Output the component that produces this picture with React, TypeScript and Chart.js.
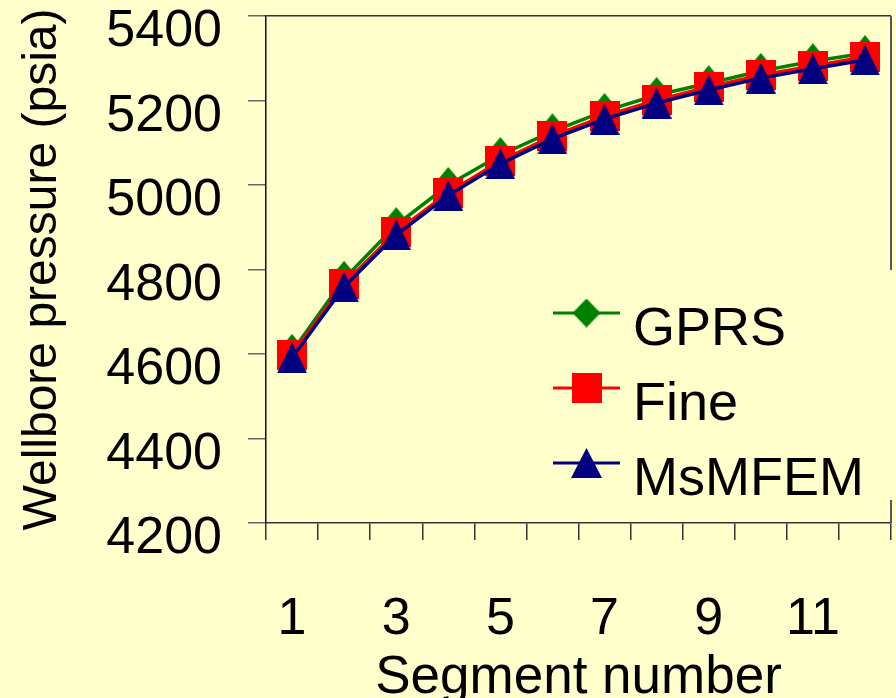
import { useEffect, useRef } from 'react';
import { Chart, registerables } from 'chart.js';

Chart.register(...registerables);

// ---- data ----
const segments = ['1', '2', '3', '4', '5', '6', '7', '8', '9', '10', '11', '12'];
const gprsPressure = [4605, 4778, 4905, 5000, 5071, 5127, 5175, 5213, 5241, 5270, 5293, 5312];
const finePressure = [4598, 4766, 4889, 4982, 5057, 5116, 5163, 5201, 5232, 5260, 5282, 5303];
const msmfemPressure = [4591, 4759, 4882, 4975, 5050, 5109, 5156, 5194, 5225, 5253, 5275, 5296];
const seriesNames = ['GPRS', 'Fine', 'MsMFEM'];
const yMin = 4200;
const yMax = 5400;
const yStep = 200;

const BG = '#FFFFCC';
const FONT = '"Liberation Sans", Arial, sans-serif';
const GREEN = '#008000';
const RED = '#FF0000';
const NAVY = '#000080';

type Kind = 'diamond' | 'square' | 'triangle';

function makeMarker(kind: Kind, color: string, w: number, h: number): HTMLCanvasElement {
  const c = document.createElement('canvas');
  c.width = w;
  c.height = h;
  const g = c.getContext('2d')!;
  g.fillStyle = color;
  g.beginPath();
  if (kind === 'diamond') {
    g.moveTo(w / 2, 0);
    g.lineTo(w, h / 2);
    g.lineTo(w / 2, h);
    g.lineTo(0, h / 2);
  } else if (kind === 'square') {
    g.rect(0, 0, w, h);
  } else {
    g.moveTo(w / 2, 0);
    g.lineTo(w, h);
    g.lineTo(0, h);
  }
  g.closePath();
  g.fill();
  return c;
}

export default function App() {
  const ref = useRef<HTMLCanvasElement | null>(null);

  useEffect(() => {
    const canvas = ref.current;
    if (!canvas) return;

    const legendMarkers = [
      makeMarker('diamond', GREEN, 28, 29),
      makeMarker('square', RED, 30, 30),
      makeMarker('triangle', NAVY, 31, 30),
    ];

    const legendPlugin = {
      id: 'boxLegend',
      afterDraw(chart: any) {
        const { ctx, chartArea: a } = chart;
        ctx.save();
        // right frame line
        ctx.strokeStyle = '#555555';
        ctx.lineWidth = 2;
        ctx.beginPath();
        ctx.moveTo(a.right, a.top);
        ctx.lineTo(a.right, a.bottom);
        ctx.stroke();
        // opaque legend box
        ctx.fillStyle = BG;
        ctx.fillRect(545, 270, 351, 230);
        [0, 1, 2].forEach((di, row) => {
          const ds = chart.data.datasets[di];
          const y = 313 + row * 75;
          ctx.strokeStyle = ds.borderColor;
          ctx.lineWidth = 3;
          ctx.beginPath();
          ctx.moveTo(553, y);
          ctx.lineTo(620, y);
          ctx.stroke();
          const m = legendMarkers[di];
          ctx.drawImage(m, 586.5 - m.width / 2, y - m.height / 2);
          ctx.fillStyle = '#000000';
          ctx.font = `54px ${FONT}`;
          ctx.textAlign = 'left';
          ctx.textBaseline = 'alphabetic';
          ctx.fillText(ds.label, 633, y + 31.5);
        });
        ctx.restore();
      },
    };

    const chart = new Chart(canvas, {
      type: 'line',
      data: {
        labels: segments,
        datasets: [
          {
            label: seriesNames[0],
            data: gprsPressure,
            borderColor: GREEN,
            backgroundColor: GREEN,
            borderWidth: 3.5,
            pointStyle: makeMarker('diamond', GREEN, 30, 36) as any,
            pointRadius: 15,
            tension: 0,
            order: 2,
            clip: false as any,
          },
          {
            label: seriesNames[1],
            data: finePressure,
            borderColor: RED,
            backgroundColor: RED,
            borderWidth: 3.5,
            pointStyle: makeMarker('square', RED, 30, 30) as any,
            pointRadius: 15,
            tension: 0,
            order: 1,
            clip: false as any,
          },
          {
            label: seriesNames[2],
            data: msmfemPressure,
            borderColor: NAVY,
            backgroundColor: NAVY,
            borderWidth: 3.5,
            pointStyle: makeMarker('triangle', NAVY, 30, 31) as any,
            pointRadius: 15,
            tension: 0,
            order: 0,
            clip: false as any,
          },
        ],
      },
      options: {
        responsive: false,
        devicePixelRatio: 1,
        animation: false,
        events: [],
        layout: { autoPadding: false, padding: { top: 16, right: 5, left: 0, bottom: 0 } },
        plugins: {
          legend: { display: false },
          tooltip: { enabled: false },
        },
        scales: {
          x: {
            type: 'category',
            offset: true,
            grid: {
              offset: true,
              drawOnChartArea: false,
              drawTicks: true,
              tickLength: 17,
              tickColor: '#333333',
              lineWidth: 1.5,
            },
            border: { display: true, color: '#333333', width: 1.5 },
            ticks: {
              autoSkip: false,
              maxRotation: 0,
              padding: 48,
              color: '#000000',
              font: { family: FONT, size: 52 },
              callback: (_v: any, i: number) => (i % 2 === 0 ? segments[i] : ''),
            },
            title: {
              display: true,
              text: 'Segment number',
              color: '#000000',
              font: { family: FONT, size: 53, lineHeight: 1 },
              padding: { top: 0, bottom: -7 },
            },
            afterFit: (s: any) => {
              s.height = 175;
              s.paddingLeft = 0;
              s.paddingRight = 0;
            },
          },
          y: {
            type: 'linear',
            min: yMin,
            max: yMax,
            ticks: {
              stepSize: yStep,
              padding: 26,
              labelOffset: 16,
              color: '#000000',
              font: { family: FONT, size: 52 },
              callback: (v: any) => String(v),
            },
            grid: {
              drawOnChartArea: true,
              drawTicks: true,
              tickLength: 18,
              lineWidth: 1.5,
              color: (c: any) => (c.tick && c.tick.value === yMax ? '#333333' : 'rgba(0,0,0,0)'),
              tickColor: '#666666',
            },
            border: { display: true, color: '#111111', width: 1.5 },
            title: {
              display: true,
              text: 'Wellbore pressure (psia)',
              color: '#000000',
              font: { family: FONT, size: 48, lineHeight: 1 },
              padding: { top: 19, bottom: 0 },
            },
            afterFit: (s: any) => {
              s.width = 266;
              s.paddingTop = 0;
              s.paddingBottom = 0;
            },
          },
        },
      },
      plugins: [legendPlugin],
    });

    return () => {
      chart.destroy();
    };
  }, []);

  return (
    <div
      style={{
        position: 'fixed',
        left: 0,
        top: 0,
        width: 896,
        height: 698,
        background: BG,
        overflow: 'hidden',
      }}
    >
      <canvas ref={ref} width={896} height={698} style={{ display: 'block' }} />
    </div>
  );
}
